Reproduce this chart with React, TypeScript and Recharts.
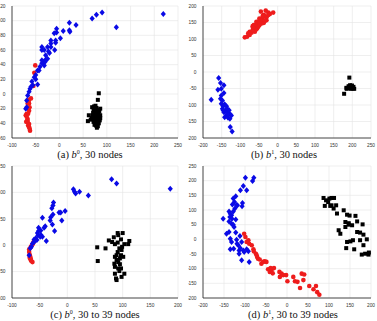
import { ScatterChart, Scatter, XAxis, YAxis, CartesianGrid } from "recharts";

type Pt = [number, number];

// (a) b0, 30 nodes
const aRed: Pt[] = [
  [-51, 39], [-53, 29], [-55, 11], [-60, -6], [-64, -13], [-66, -19], [-69, -27], [-71, -29],
  [-67, -34], [-67, -38], [-66, -43], [-63, -47], [-62, -50], [-64, -23], [-64, -8], [-67, -13],
  [-69, -31], [-70, -38], [-64, -45], [-66, -27], [-63, -18], [-68, -36], [-64, -41], [-65, -11],
];
const aBlue: Pt[] = [
  [219, 109], [120, 91], [90, 111], [78, 108], [69, 103], [35, 94], [21, 97], [21, 87], [22, 85],
  [8, 86], [2, 76], [-6, 84], [-6, 89], [-8, 73], [-8, 70], [-11, 83], [-10, 60], [-18, 73],
  [-18, 69], [-18, 64], [-23, 58], [-25, 64], [-29, 53], [-32, 60], [-37, 64], [-37, 60],
  [-34, 44], [-37, 46], [-29, 47], [-32, 39], [-37, 42], [-41, 37], [-46, 32], [-50, 26],
  [-50, 20], [-46, 13], [-56, 12], [-58, 17], [-62, 7], [-64, 3], [-67, -2], [-69, -9],
  [-69, -18], [-71, -20], [-25, 48], [-30, 44], [-43, 32], [-53, 23], [-60, 10], [-21, 56],
];
const aBlack: Pt[] = [
  [83, 1], [81, -8], [86, -20], [69, -18], [62, -29], [60, -37], [72, -22], [75, -20], [78, -19],
  [80, -22], [84, -24], [73, -25], [76, -26], [79, -27], [82, -28], [86, -29], [70, -29], [74, -30],
  [77, -31], [80, -32], [83, -33], [71, -34], [75, -35], [78, -35], [81, -36], [85, -36], [68, -33],
  [72, -38], [76, -39], [79, -40], [83, -40], [74, -42], [77, -43], [81, -44], [79, -46], [66, -35],
  [73, -31], [84, -31], [71, -26], [86, -33], [78, -24], [76, -16], [73, -17],
];

// (b) b1, 30 nodes
const bRed: Pt[] = [
  [-88, 105], [-82, 107], [-75, 112], [-70, 119], [-66, 127], [-67, 139], [-61, 137], [-57, 145],
  [-52, 152], [-48, 157], [-43, 162], [-39, 157], [-34, 168], [-45, 183], [-32, 186], [-25, 180],
  [-12, 180], [-21, 176], [-37, 173], [-49, 142], [-55, 132], [-61, 122], [-43, 147], [-37, 149],
  [-30, 166], [-57, 152], [-64, 142], [-75, 122], [-79, 117], [-49, 162], [-40, 170], [-30, 157],
  [-25, 173], [-52, 137], [-46, 155], [-58, 129], [-67, 127], [-66, 135], [-34, 155], [-49, 148],
];
const bBlue: Pt[] = [
  [-158, -18], [-153, -33], [-160, -54], [-151, -51], [-144, -40], [-144, -64], [-178, -84],
  [-153, -81], [-148, -86], [-151, -96], [-146, -104], [-142, -98], [-137, -104], [-148, -111],
  [-144, -122], [-139, -116], [-135, -111], [-133, -122], [-128, -127], [-124, -132], [-137, -132],
  [-142, -137], [-133, -139], [-128, -142], [-135, -127], [-127, -167], [-122, -180], [-151, -71],
  [-146, -116], [-130, -116],
];
const bBlack: Pt[] = [
  [192, -17], [178, -66], [185, -51], [190, -43], [194, -40], [199, -41], [203, -45], [205, -51],
  [184, -48], [192, -48], [199, -48], [188, -48], [196, -51], [201, -50],
];

// (c) b0, 30 to 39 nodes
const cRed: Pt[] = [
  [-61, 6], [-66, -3], [-69, -13], [-67, -22], [-66, -28], [-63, -32], [-68, -18], [-67, -25],
  [-65, -30], [-69, -8], [-62, 3], [-68, -20], [-66, -26], [-64, 0], [-68, -24],
];
const cBlue: Pt[] = [
  [186, 107], [80, 125], [89, 117], [38, 94], [22, 101], [13, 101], [15, 98], [11, 106], [-4, 65],
  [-10, 47], [-15, 62], [-12, 62], [-25, 81], [-26, 75], [-28, 70], [-26, 58], [-30, 53], [-31, 47],
  [-27, 39], [-23, 27], [-45, 52], [-40, 36], [-42, 33], [-48, 28], [-52, 27], [-49, 16], [-54, 23],
  [-53, 19], [-45, 16], [-48, 20], [-38, 8], [-57, 13], [-60, 11], [-60, 6], [-63, 3], [-65, -3],
  [-67, -6], [-55, 10], [-69, -19], [-52, 33],
];
const cBlack: Pt[] = [
  [54, -4], [55, -30], [69, -6], [75, 9], [84, 15], [86, 2], [86, -22], [88, -63], [86, -54],
  [92, -44], [89, -28], [95, -36], [98, -9], [100, 23], [91, 23], [92, 19], [97, 11], [101, -22],
  [103, -54], [110, 2], [112, 8], [103, 2], [81, 6], [94, -6], [91, -13], [89, -19], [95, -25],
  [92, -32], [97, -44], [94, -49], [98, -60], [86, -41], [89, -66], [85, -35], [97, -19], [91, 5],
  [99, -3],
];

// (d) b1, 30 to 39 nodes
const dRed: Pt[] = [
  [-102, 19], [-96, -9], [-90, -15], [-84, -20], [-79, -41], [-74, -49], [-71, -60], [-69, -66],
  [-65, -69], [-61, -83], [-53, -75], [-49, -77], [-45, -102], [-41, -111], [-37, -106], [-31, -98],
  [-34, -116], [-17, -128], [-13, -117], [-18, -111], [-9, -122], [1, -143], [15, -128], [19, -143],
  [25, -145], [35, -117], [41, -120], [39, -139], [31, -166], [53, -159], [63, -170], [69, -159],
  [72, -180], [77, -189], [-92, -3], [-80, -34], [-72, -55], [-57, -77], [-39, -98], [-2, -122],
  [-99, 8],
];
const dBlue: Pt[] = [
  [-99, 210], [-79, 210], [-82, 199], [-111, 167], [-96, 167], [-104, 182], [-122, 147], [-128, 139],
  [-125, 127], [-130, 119], [-118, 116], [-106, 124], [-107, 113], [-138, 95], [-135, 87], [-132, 82],
  [-136, 76], [-152, 70], [-131, 70], [-138, 61], [-132, 53], [-128, 50], [-122, 68], [-126, 42],
  [-138, 25], [-144, 19], [-122, 23], [-135, 2], [-132, -9], [-112, 11], [-120, -1], [-108, -9],
  [-135, -34], [-127, -32], [-116, -20], [-114, -38], [-111, -30], [-104, -38], [-96, -34], [-92, -41],
  [-114, -49], [-108, -71], [-90, -77], [-102, -43], [-119, -15], [-128, 95], [-124, 105], [-120, 116],
];
const dBlack: Pt[] = [
  [87, 141], [93, 133], [101, 139], [106, 141], [112, 141], [98, 127], [90, 114], [106, 116],
  [103, 114], [117, 116], [111, 105], [119, 88], [135, 99], [143, 84], [149, 81], [163, 80],
  [139, 59], [147, 55], [167, 61], [180, 51], [123, 31], [127, 19], [139, 42], [167, 25], [174, 23],
  [182, 16], [143, -9], [151, -7], [157, -3], [174, -3], [190, 0], [141, -30], [160, -34], [182, -20],
  [178, -52], [186, -49], [195, -45], [194, -52], [147, 50], [155, 48],
];

const RED = "#ee1c1c";
const BLUE = "#0a0ae6";
const BLACK = "#000000";

const toRows = (pts: Pt[]) => pts.map(([x, y]) => ({ x, y }));

const RedDot = (p: any) => <circle cx={p.cx} cy={p.cy} r={2.3} fill={RED} />;
const BlueDiamond = (p: any) => (
  <polygon
    points={`${p.cx},${p.cy - 3} ${p.cx + 2.6},${p.cy} ${p.cx},${p.cy + 3} ${p.cx - 2.6},${p.cy}`}
    fill={BLUE}
  />
);
const BlackSquare = (p: any) => <rect x={p.cx - 2} y={p.cy - 2} width={4} height={4} fill={BLACK} />;

const range = (a: number, b: number, s: number) => {
  const out: number[] = [];
  for (let v = a; v <= b; v += s) out.push(v);
  return out;
};

const tickStyle = { fontSize: 4.8, fill: "#333", fontFamily: "Liberation Sans, Arial" };

type PanelProps = {
  left: number;
  top: number;
  width: number;
  yWidth: number;
  rightPad: number;
  xTicks: number[];
  yTicks: number[];
  red: Pt[];
  blue: Pt[];
  black: Pt[];
  tag: string;
  sup: string;
  rest: string;
  captionX: number;
};

const Panel = ({ left, top, width, yWidth, rightPad, xTicks, yTicks, red, blue, black, tag, sup, rest, captionX }: PanelProps) => (
  <div style={{ position: "absolute", left, top, width, height: 160 }}>
    <ScatterChart width={width} height={149} margin={{ top: 6, right: rightPad, left: 0, bottom: 2 }}>
      <CartesianGrid stroke="#e4e4e4" strokeWidth={0.6} />
      <XAxis
        type="number"
        dataKey="x"
        domain={[xTicks[0], xTicks[xTicks.length - 1]]}
        ticks={xTicks}
        interval={0}
        height={9}
        tick={tickStyle}
        tickLine={false}
        tickMargin={0}
        stroke="#222"
        strokeWidth={0.8}
      />
      <YAxis
        type="number"
        dataKey="y"
        domain={[yTicks[0], yTicks[yTicks.length - 1]]}
        ticks={yTicks}
        interval={0}
        width={yWidth}
        tick={tickStyle}
        tickLine={false}
        tickMargin={0.5}
        stroke="#222"
        strokeWidth={0.8}
      />
      <Scatter data={toRows(red)} shape={RedDot} isAnimationActive={false} />
      <Scatter data={toRows(blue)} shape={BlueDiamond} isAnimationActive={false} />
      <Scatter data={toRows(black)} shape={BlackSquare} isAnimationActive={false} />
    </ScatterChart>
    <div
      style={{
        position: "absolute",
        left: captionX - left - 60,
        width: 120,
        top: 149,
        textAlign: "center",
        fontFamily: "'Liberation Serif', 'DejaVu Serif', serif",
        fontSize: 10.5,
        color: "#111",
        lineHeight: "12px",
        whiteSpace: "nowrap",
      }}
    >
      {`(${tag}) `}
      <i>b</i>
      <sup style={{ fontSize: 6, verticalAlign: "4px", lineHeight: 0 }}>{sup}</sup>
      {`, ${rest}`}
    </div>
  </div>
);

export default function App() {
  return (
    <div style={{ position: "absolute", left: 0, top: 0, width: 377, height: 321, background: "#fff", overflow: "hidden" }}>
      <Panel
        left={0} top={0} width={185} yWidth={12} rightPad={7}
        xTicks={range(-100, 250, 50)} yTicks={range(-60, 120, 20)}
        red={aRed} blue={aBlue} black={aBlack}
        tag="a" sup="0" rest="30 nodes" captionX={90}
      />
      <Panel
        left={188} top={0} width={189} yWidth={15} rightPad={6}
        xTicks={range(-200, 250, 50)} yTicks={range(-200, 200, 50)}
        red={bRed} blue={bBlue} black={bBlack}
        tag="b" sup="1" rest="30 nodes" captionX={284}
      />
      <Panel
        left={0} top={160} width={185} yWidth={12} rightPad={7}
        xTicks={range(-100, 200, 50)} yTicks={range(-100, 150, 50)}
        red={cRed} blue={cBlue} black={cBlack}
        tag="c" sup="0" rest="30 to 39 nodes" captionX={95}
      />
      <Panel
        left={188} top={160} width={189} yWidth={15} rightPad={6}
        xTicks={range(-200, 200, 50)} yTicks={range(-200, 250, 50)}
        red={dRed} blue={dBlue} black={dBlack}
        tag="d" sup="1" rest="30 to 39 nodes" captionX={293}
      />
    </div>
  );
}
